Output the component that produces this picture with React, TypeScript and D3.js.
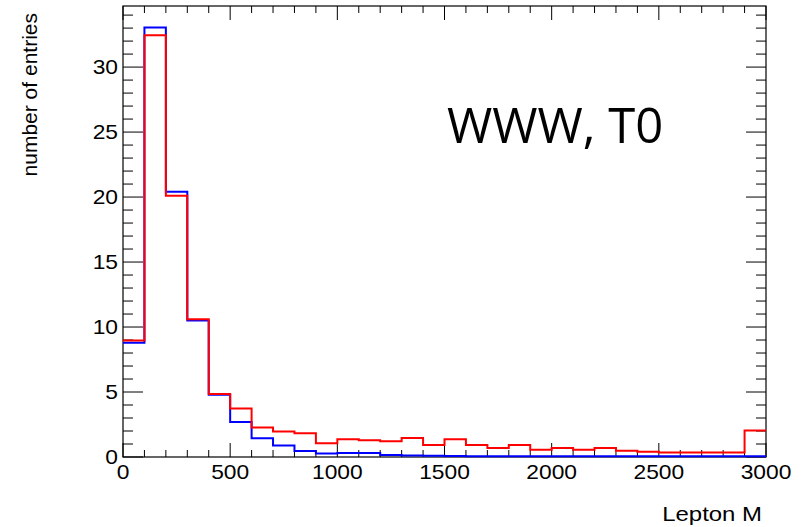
import React, { useEffect, useRef } from 'react';
import * as d3 from 'd3';

// bin lower edges, 100 wide each, 0..3000
const binEdges = d3.range(0, 3001, 100);

const blueCounts = [
  8.8, 33.05, 20.4, 10.5, 4.78, 2.7, 1.45, 0.88, 0.47, 0.27,
  0.3, 0.3, 0.16, 0.12, 0.1, 0.08, 0.06, 0.05, 0.05, 0.05,
  0.05, 0.05, 0.05, 0.05, 0.05, 0.05, 0.05, 0.05, 0.05, 0.05,
];

const redCounts = [
  8.97, 32.45, 20.1, 10.6, 4.84, 3.73, 2.27, 1.96, 1.83, 1.06,
  1.36, 1.29, 1.21, 1.46, 0.93, 1.36, 0.93, 0.7, 0.93, 0.55,
  0.7, 0.55, 0.7, 0.49, 0.41, 0.34, 0.34, 0.34, 0.34, 2.03,
];

const xTicks = [0, 500, 1000, 1500, 2000, 2500, 3000];
const yTicks = [0, 5, 10, 15, 20, 25, 30];

const App = () => {
  const svgRef = useRef(null);

  useEffect(() => {
    const svg = d3.select(svgRef.current);
    svg.selectAll("*").remove();

    const width = 806;
    const height = 527;
    const margin = { top: 6, right: 40, bottom: 70, left: 123 };
    const x0 = margin.left, x1 = width - margin.right;
    const y0 = height - margin.bottom, y1 = margin.top;

    const x = d3.scaleLinear().domain([0, 3000]).range([x0, x1]);
    const y = d3.scaleLinear().domain([0, 34.7]).range([y0, y1]);

    const font = "'Liberation Sans', Arial, sans-serif";
    const stretch = 1.14; // the original image is a bit wider than tall

    // frame
    svg.append("rect")
      .attr("x", x0).attr("y", y1)
      .attr("width", x1 - x0).attr("height", y0 - y1)
      .attr("fill", "white").attr("stroke", "black").attr("stroke-width", 1.2);

    const ticks = svg.append("g").attr("stroke", "black").attr("stroke-width", 1);

    // x ticks (bottom and top)
    d3.range(0, 3001, 100).forEach(v => {
      const major = v % 500 === 0;
      const len = major ? 14 : 7;
      const px = x(v);
      ticks.append("line").attr("x1", px).attr("x2", px).attr("y1", y0).attr("y2", y0 - len);
      ticks.append("line").attr("x1", px).attr("x2", px).attr("y1", y1).attr("y2", y1 + len);
    });

    // y ticks (left and right)
    d3.range(0, 35, 1).forEach(v => {
      const major = v % 5 === 0;
      const len = major ? 20 : 10;
      const py = y(v);
      ticks.append("line").attr("x1", x0).attr("x2", x0 + len).attr("y1", py).attr("y2", py);
      ticks.append("line").attr("x1", x1).attr("x2", x1 - len).attr("y1", py).attr("y2", py);
    });

    // tick labels
    svg.append("g").selectAll("text").data(xTicks).enter().append("text")
      .attr("transform", d => `translate(${x(d)},${y0 + 22}) scale(${stretch},1)`)
      .attr("text-anchor", "middle")
      .attr("font-family", font).attr("font-size", 20)
      .text(d => d);

    svg.append("g").selectAll("text").data(yTicks).enter().append("text")
      .attr("transform", d => `translate(${x0 - 5},${y(d) + 7}) scale(${stretch},1)`)
      .attr("text-anchor", "end")
      .attr("font-family", font).attr("font-size", 20)
      .text(d => d);

    // histograms
    const stepLine = d3.line()
      .x(d => x(d[0]))
      .y(d => y(d[1]))
      .curve(d3.curveStepAfter);

    const toPoints = counts => {
      const pts = counts.map((c, i) => [binEdges[i], c]);
      pts.push([binEdges[counts.length], counts[counts.length - 1]]);
      return pts;
    };

    svg.append("path")
      .datum(toPoints(blueCounts))
      .attr("d", stepLine)
      .attr("fill", "none").attr("stroke", "#0000ff").attr("stroke-width", 2);

    svg.append("path")
      .datum(toPoints(redCounts))
      .attr("d", stepLine)
      .attr("fill", "none").attr("stroke", "#ff0000").attr("stroke-width", 2);

    // axis titles
    svg.append("text")
      .attr("transform", `translate(${x1 - 4},521) scale(${stretch},1)`)
      .attr("text-anchor", "end")
      .attr("font-family", font).attr("font-size", 21)
      .text("Lepton M");

    svg.append("text")
      .attr("transform", "translate(37,13) rotate(-90)")
      .attr("text-anchor", "end")
      .attr("font-family", font).attr("font-size", 21)
      .text("number of entries");

    svg.append("text")
      .attr("x", 447).attr("y", 143)
      .attr("font-family", "'Open Sans', sans-serif").attr("font-size", 49)
      .text("WWW, T0");
  }, []);

  return (
    <svg
      ref={svgRef}
      width={806}
      height={527}
      style={{ position: "absolute", left: 0, top: 0, background: "white" }}
    ></svg>
  );
};

export default App;
